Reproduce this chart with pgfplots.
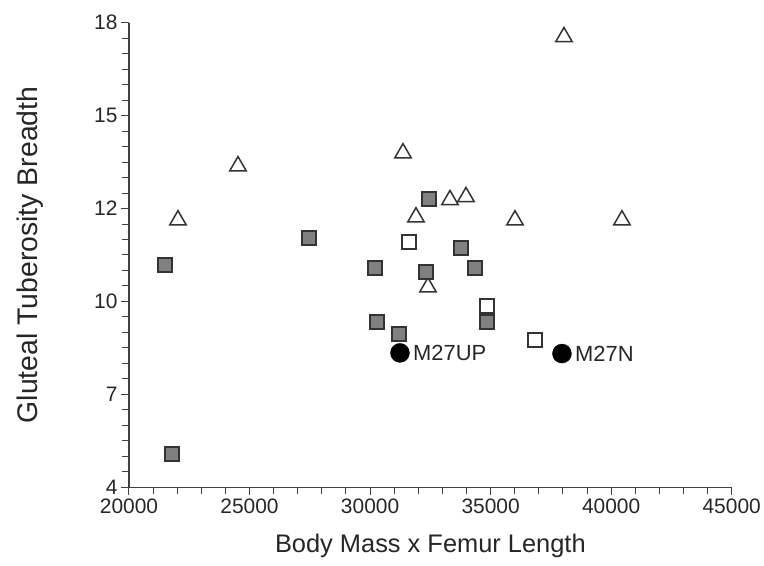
\documentclass[border=0pt]{standalone}
\usepackage{fontspec}
\setmainfont{Liberation Sans}
\usepackage{pgfplots}
\pgfplotsset{compat=1.18}
\begin{document}
\begin{tikzpicture}
\begin{axis}[
  at={(0,0)}, anchor=south west,
  scale only axis,
  width=602.7bp, height=464.6bp,
  xmin=20000, xmax=45000, ymin=4, ymax=18,
  axis x line*=bottom, axis y line*=left,
  axis line style={black!75, line width=1.1bp, -},
  tick align=outside,
  major tick length=8bp, minor tick length=7bp,
  every tick/.style={black!75, line width=1bp},
  scaled x ticks=false, scaled y ticks=false,
  xtick={20000,25000,30000,35000,40000,45000},
  xticklabels={20000,25000,30000,35000,40000,45000},
  minor x tick num=4,
  ytick={4,6.8,9.6,12.4,15.2,18},
  yticklabels={4,7,10,12,15,18},
  minor y tick num=5,
  /pgf/number format/assume math mode=true,
  tick label style={font=\fontsize{21}{24}\selectfont, text=black!85},
  xlabel={Body Mass x Femur Length},
  ylabel={Gluteal Tuberosity Breadth},
  every axis x label/.style={at={(axis description cs:0.5,-0.1414)}, anchor=base, font=\fontsize{25.5}{30}\selectfont, text=black!85},
  every axis y label/.style={at={(axis description cs:-0.1526,0.5)}, rotate=90, anchor=base, font=\fontsize{28.5}{34}\selectfont, text=black!85},
  clip=false,
]
% open triangles
\addplot[only marks, mark=triangle, mark size=9.5bp, mark options={draw=black!80, fill=white, line width=1.5bp}]
  coordinates {(22032,12.05) (24521,13.68) (31365,14.07) (31904,12.14) (33314,12.66) (33978,12.75) (32401,10.03) (36010,12.05) (38042,17.57) (40448,12.05)};
% gray squares
\addplot[only marks, mark=square*, mark size=7bp, mark options={draw=black!80, fill=black!50, line width=1.4bp}]
  coordinates {(21493,10.70) (21783,5.00) (27466,11.51) (32443,12.69) (33770,11.21) (30203,10.61) (32318,10.49) (34351,10.61) (30286,8.98) (31199,8.62) (34849,8.98)};
% open squares
\addplot[only marks, mark=square*, mark size=7bp, mark options={draw=black!80, fill=white, line width=1.4bp}]
  coordinates {(31613,11.39) (34849,9.46) (36839,8.44)};
% black circles with labels
\addplot[only marks, mark=*, mark size=9.5bp, mark options={draw=black, fill=black},
  nodes near coords, point meta=explicit symbolic,
  every node near coord/.style={anchor=west, inner sep=0pt, xshift=13bp, font=\fontsize{22}{26}\selectfont, text=black!85}]
  table[meta=label] {
x y label
31240 8.05 M27UP
37959 8.03 M27N
};
\end{axis}
\pgfresetboundingbox
\path[use as bounding box] (-129bp,-78.7bp) rectangle (635bp,487.3bp);
\end{tikzpicture}
\end{document}
